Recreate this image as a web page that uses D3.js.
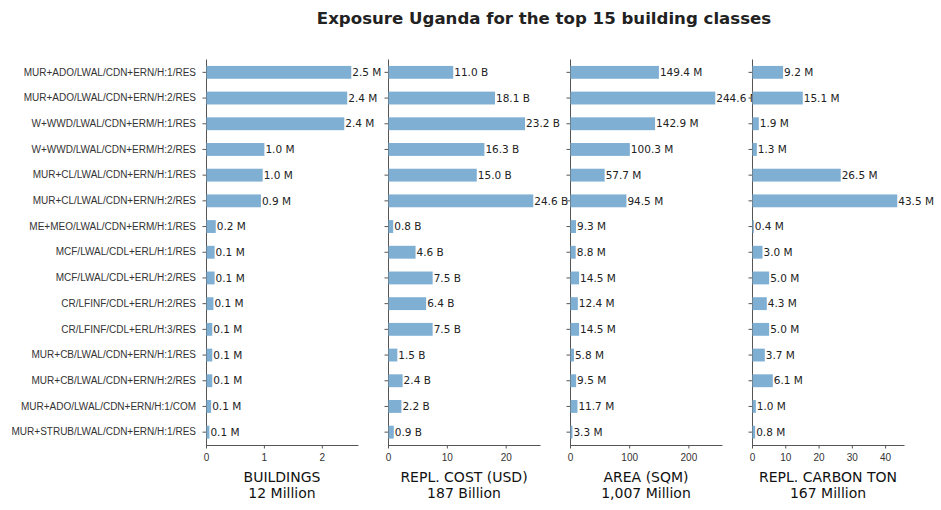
<!DOCTYPE html>
<html>
<head>
<meta charset="utf-8">
<script src="https://cdn.jsdelivr.net/npm/d3@7"></script>
<style>
  body { margin: 0; background: #fff; }
  svg { font-family: "DejaVu Sans", sans-serif; }
  .axis path, .axis line { stroke: #555; }
  .axis text { fill: #333; font-size: 10px; }
</style>
</head>
<body>
<svg width="941" height="510"></svg>
<script>
// top 15 building classes, top to bottom
var categories = [
  "MUR+ADO/LWAL/CDN+ERN/H:1/RES",
  "MUR+ADO/LWAL/CDN+ERN/H:2/RES",
  "W+WWD/LWAL/CDN+ERM/H:1/RES",
  "W+WWD/LWAL/CDN+ERM/H:2/RES",
  "MUR+CL/LWAL/CDN+ERN/H:1/RES",
  "MUR+CL/LWAL/CDN+ERN/H:2/RES",
  "ME+MEO/LWAL/CDN+ERM/H:1/RES",
  "MCF/LWAL/CDL+ERL/H:1/RES",
  "MCF/LWAL/CDL+ERL/H:2/RES",
  "CR/LFINF/CDL+ERL/H:2/RES",
  "CR/LFINF/CDL+ERL/H:3/RES",
  "MUR+CB/LWAL/CDN+ERN/H:1/RES",
  "MUR+CB/LWAL/CDN+ERN/H:2/RES",
  "MUR+ADO/LWAL/CDN+ERN/H:1/COM",
  "MUR+STRUB/LWAL/CDN+ERN/H:1/RES"
];

// values per panel (millions / billions)
var buildings = [2.50, 2.43, 2.38, 1.00, 0.97, 0.94, 0.16, 0.14, 0.14, 0.12, 0.10, 0.10, 0.10, 0.08, 0.05];
var cost      = [11.0, 18.1, 23.2, 16.3, 15.0, 24.6, 0.8, 4.6, 7.5, 6.4, 7.5, 1.5, 2.4, 2.2, 0.9];
var area      = [149.4, 244.6, 142.9, 100.3, 57.7, 94.5, 9.3, 8.8, 14.5, 12.4, 14.5, 5.8, 9.5, 11.7, 3.3];
var carbon    = [9.2, 15.1, 1.9, 1.3, 26.5, 43.5, 0.4, 3.0, 5.0, 4.3, 5.0, 3.7, 6.1, 1.0, 0.8];

var panelNames  = ["BUILDINGS", "REPL. COST (USD)", "AREA (SQM)", "REPL. CARBON TON"];
var panelTotals = ["12 Million", "187 Billion", "1,007 Million", "167 Million"];
var units       = ["M", "B", "M", "M"];
var tickValues  = [[0, 1, 2], [0, 10, 20], [0, 100, 200], [0, 10, 20, 30, 40]];

var series = [buildings, cost, area, carbon];

var svg = d3.select("svg");
var barColor = "#7fafd3";

var panelLeft = [206, 388, 570, 752],
    panelWidth = 152,
    plotTop = 59.5,
    plotBottom = 445;

var fmt = d3.format(".1f");

svg.append("text")
    .attr("x", 544)
    .attr("y", 24)
    .attr("text-anchor", "middle")
    .attr("font-size", "16.6px")
    .attr("font-weight", "bold")
    .attr("fill", "#222")
    .text("Exposure Uganda for the top 15 building classes");

var y = d3.scaleBand()
    .domain(categories)
    .range([plotTop, plotBottom])
    .paddingInner(0.5)
    .paddingOuter(0.25);

series.forEach(function(values, i) {
    var x = d3.scaleLinear()
        .domain([0, d3.max(values) * 1.05])
        .range([0, panelWidth]);

    var g = svg.append("g")
        .attr("transform", "translate(" + panelLeft[i] + ",0)");

    var yAxis = d3.axisLeft(y).tickSize(3.5).tickPadding(6.5);
    if (i > 0) yAxis.tickFormat("");

    g.append("g")
        .attr("class", "axis")
        .call(yAxis)
        .call(function(a) { a.select(".domain").attr("d", "M0.5," + plotTop + "V" + plotBottom); });

    g.append("g")
        .attr("class", "axis")
        .attr("transform", "translate(0," + plotBottom + ")")
        .call(d3.axisBottom(x).tickValues(tickValues[i]).tickFormat(d3.format("d"))
            .tickSize(3.5).tickPadding(5.5).tickSizeOuter(0));

    g.selectAll(".bar")
        .data(values)
      .enter().append("rect")
        .attr("class", "bar")
        .attr("x", 0.5)
        .attr("y", function(d, j) { return y(categories[j]); })
        .attr("height", y.bandwidth())
        .attr("width", function(d) { return x(d); })
        .attr("fill", barColor);

    g.selectAll(".val")
        .data(values)
      .enter().append("text")
        .attr("class", "val")
        .attr("x", function(d) { return x(d) + 1.5; })
        .attr("y", function(d, j) { return y(categories[j]) + y.bandwidth() / 2; })
        .attr("dy", "0.35em")
        .attr("font-size", "10.5px")
        .attr("fill", "#222")
        .text(function(d) { return fmt(d) + " " + units[i]; });

    var label = g.append("text")
        .attr("x", panelWidth / 2)
        .attr("y", 482)
        .attr("text-anchor", "middle")
        .attr("font-size", "14px")
        .attr("fill", "#111");
    label.append("tspan").attr("x", panelWidth / 2).text(panelNames[i]);
    label.append("tspan").attr("x", panelWidth / 2).attr("dy", 15.5).text(panelTotals[i]);
});
</script>
</body>
</html>
